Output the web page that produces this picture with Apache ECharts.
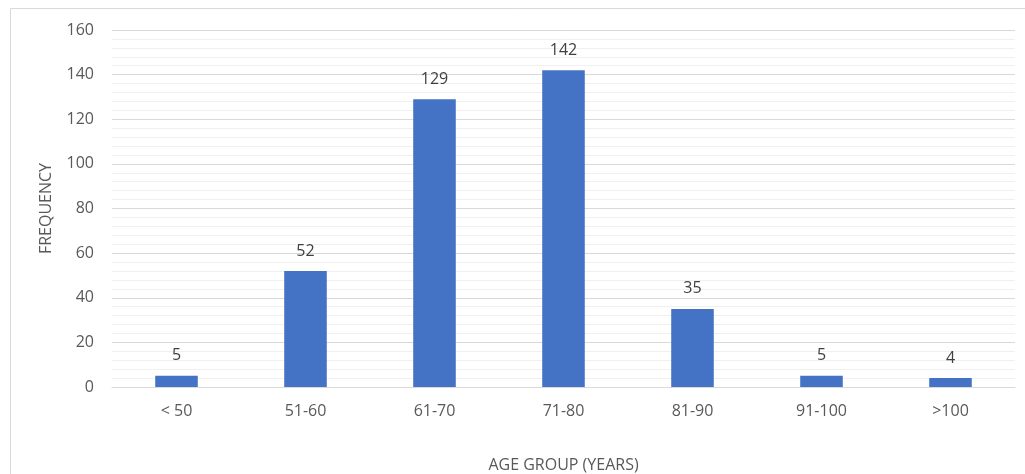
<!DOCTYPE html>
<html><head><meta charset="utf-8">
<script src="https://cdn.jsdelivr.net/npm/echarts@6/dist/echarts.min.js"></script>
<style>html,body{margin:0;padding:0;background:#fff}#c{width:1025px;height:474px}</style>
</head><body><div id="c"></div>
<script>
const categories = ['< 50', '51-60', '61-70', '71-80', '81-90', '91-100', '>100'];
const frequency = [5, 52, 129, 142, 35, 5, 4];
const yTicks = { min: 0, max: 160, interval: 20 };

const chart = echarts.init(document.getElementById('c'), null, {renderer: 'canvas'});
const font = '"Open Sans", "Liberation Sans", sans-serif';
chart.setOption({
  animation: false,
  graphic: [{
    type: 'rect', left: 8, top: 6, shape: {width: 1030, height: 480},
    style: {fill: 'none', stroke: '#d9d9d9', lineWidth: 1}, silent: true
  }],
  grid: {left: 112, right: 10, top: 30, bottom: 87, containLabel: false, outerBoundsMode: 'none'},
  xAxis: {
    type: 'category', data: categories,
    name: 'AGE GROUP (YEARS)', nameLocation: 'middle', nameGap: 70,
    nameTextStyle: {color: '#595959', fontSize: 16, fontFamily: font},
    axisLine: {lineStyle: {color: '#d9d9d9', width: 1}},
    axisTick: {show: false},
    axisLabel: {color: '#595959', fontSize: 16, fontFamily: font, margin: 16}
  },
  yAxis: {
    type: 'value', min: yTicks.min, max: yTicks.max, interval: yTicks.interval,
    name: 'FREQUENCY', nameLocation: 'middle', nameGap: 58,
    nameTextStyle: {color: '#595959', fontSize: 16, fontFamily: font},
    axisLine: {show: false}, axisTick: {show: false},
    axisLabel: {color: '#595959', fontSize: 16, fontFamily: font, margin: 18},
    splitLine: {lineStyle: {color: '#d9d9d9', width: 1}},
    minorTick: {show: false, splitNumber: 5},
    minorSplitLine: {show: true, lineStyle: {color: '#f0f0f0', width: 1}}
  },
  series: [{
    type: 'bar', data: frequency, barWidth: '33%',
    itemStyle: {color: '#4472C4'},
    label: {show: true, position: 'top', distance: 12, color: '#404040', fontSize: 16, fontFamily: font}
  }]
});
</script></body></html>
